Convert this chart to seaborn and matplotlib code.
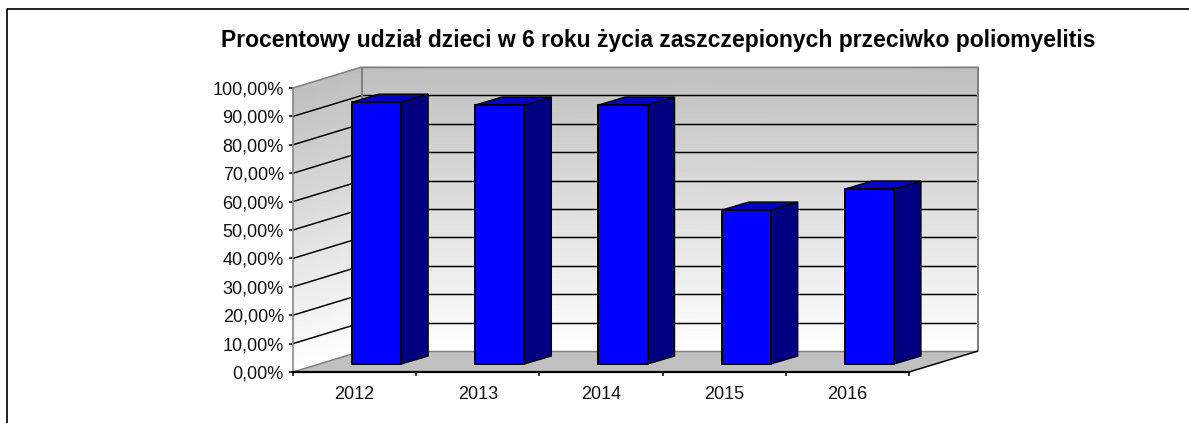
import matplotlib
matplotlib.use("Agg")
import numpy as np
import matplotlib.pyplot as plt
import seaborn as sns
from matplotlib.patches import Polygon
from matplotlib.lines import Line2D
from matplotlib.transforms import Affine2D, IdentityTransform

title = "Procentowy udział dzieci w 6 roku życia zaszczepionych przeciwko poliomyelitis"
years = [2012, 2013, 2014, 2015, 2016]
values = [92.2, 91.2, 91.2, 54.2, 61.6]
y_ticks = [0, 10, 20, 30, 40, 50, 60, 70, 80, 90, 100]
y_labels = ["0,00%", "10,00%", "20,00%", "30,00%", "40,00%", "50,00%",
            "60,00%", "70,00%", "80,00%", "90,00%", "100,00%"]

sns.set_style("ticks")
plt.rcParams["font.family"] = ["Liberation Sans", "DejaVu Sans"]

W, H = 1189, 423
fig = plt.figure(figsize=(W / 100, H / 100), dpi=100)
ax = fig.add_axes([293 / W, (H - 372) / H, 616 / W, 284 / H])

sns.barplot(x=years, y=values, native_scale=True, color="#0000ff", saturation=1,
            width=0.398, edgecolor="black", linewidth=1.4, ax=ax, zorder=6)
x0, x1 = years[0] - 0.5, years[-1] + 0.5
ax.set_xlim(x0, x1)
ax.set_ylim(0, 100)

# depth of the fake 3d box, in pixels
WALL_DX, WALL_DY = 69, 21
BAR_DX, BAR_DY = 22, 8
DEPTH_X, DEPTH_Y = 27, 8


def px(x, v):
    return ax.transData.transform((x, v))


none = IdentityTransform()
bars = list(ax.patches)

# walls, grey at the top fading to white
levels = np.linspace(0, 100, 60)
cmap = sns.blend_palette(["#ffffff", "#bfbfbf"], as_cmap=True)
bl = np.array([px(x0, v) for v in levels])
br = np.array([px(x1, v) for v in levels])
off = np.array([WALL_DX, WALL_DY])
back = bl + off
back_r = br + off
grad = np.column_stack([levels, levels])
ax.pcolormesh(np.column_stack([bl[:, 0], back[:, 0]]),
              np.column_stack([bl[:, 1], back[:, 1]]),
              grad, cmap=cmap, shading="gouraud", transform=none, zorder=1, clip_on=False)
ax.pcolormesh(np.column_stack([back[:, 0], back_r[:, 0]]),
              np.column_stack([back[:, 1], back_r[:, 1]]),
              grad, cmap=cmap, shading="gouraud", transform=none, zorder=1, clip_on=False)

# floor
a, b = px(x0, 0), px(x1, 0)
floor = [a, b, b + off, a + off]
ax.add_patch(Polygon(floor, closed=True, facecolor="#c0c0c0", edgecolor="none",
                     transform=none, zorder=1.5, clip_on=False))


def seg(p, q, color, lw=1.5, z=2):
    ax.add_line(Line2D([p[0], q[0]], [p[1], q[1]], color=color, lw=lw / 1.39,
                       transform=none, zorder=z, clip_on=False,
                       solid_capstyle="butt"))


# gridlines across both walls
for v in y_ticks:
    color = "#808080" if v in (0, 100) else "black"
    p = px(x0, v)
    seg(p, p + off, color)
    seg(p + off, px(x1, v) + off, color)

seg(a + off, px(x0, 100) + off, "#808080", 2)
seg(b + off, px(x1, 100) + off, "#808080", 2)
seg(b, b + off, "black")

# bars: move the seaborn faces back and add side and top faces
shift = Affine2D().translate(BAR_DX, BAR_DY)
d = np.array([DEPTH_X, DEPTH_Y])
for bar in bars:
    bar.set_transform(ax.transData + shift)
    bar.set_clip_on(False)
    left = px(bar.get_x(), bar.get_height()) + [BAR_DX, BAR_DY]
    right = px(bar.get_x() + bar.get_width(), bar.get_height()) + [BAR_DX, BAR_DY]
    base = px(bar.get_x() + bar.get_width(), 0) + [BAR_DX, BAR_DY]
    ax.add_patch(Polygon([right, base, base + d, right + d], closed=True,
                         facecolor="#000080", edgecolor="black", lw=1,
                         transform=none, zorder=5, clip_on=False))
    ax.add_patch(Polygon([left, right, right + d, left + d], closed=True,
                         facecolor="#0000c0", edgecolor="black", lw=1,
                         transform=none, zorder=5, clip_on=False))

ax.set_yticks(y_ticks)
ax.set_yticklabels(y_labels, fontsize=13, color="#111111")
ax.set_xticks(np.arange(x0, x1 + 0.5, 1))
ax.set_xticklabels([""] * 6)
ax.tick_params(axis="both", length=3, width=1.1, color="black", pad=3.5)
for year in years:
    ax.annotate(str(year), (year, 0), xytext=(0, -22), textcoords="offset pixels",
                ha="center", va="center", fontsize=13, color="#111111",
                annotation_clip=False)
ax.set_xlabel("")
ax.set_ylabel("")

sns.despine(ax=ax, top=True, right=True)
ax.spines["left"].set_color("#808080")
ax.spines["left"].set_linewidth(1.1)
ax.spines["bottom"].set_color("black")
ax.spines["bottom"].set_linewidth(1.6)
ax.spines["bottom"].set_zorder(7)

fig.text(658 / W, 1 - 41 / H, title, ha="center", va="center",
         fontsize=16.5, fontweight="bold", color="black")

# chart frame, only top and left fall inside the image
fig.add_artist(Line2D([7 / W, 7 / W, 1], [0, 1 - 9 / H, 1 - 9 / H],
                      color="#111111", lw=1.3, transform=fig.transFigure))

fig.savefig("out.png", dpi=100, facecolor="white")
